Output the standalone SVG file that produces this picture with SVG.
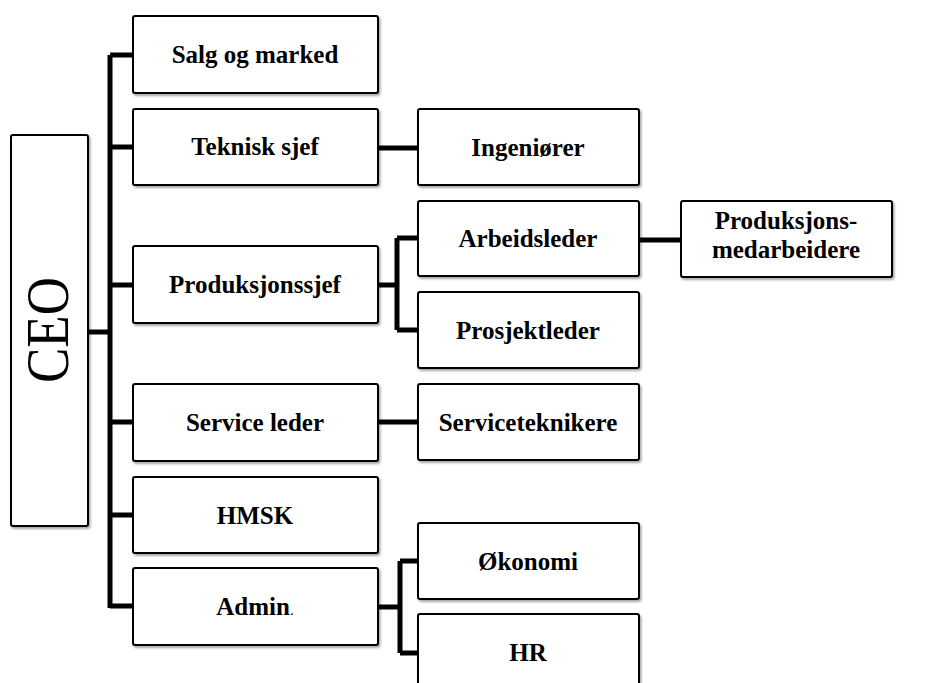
<svg xmlns="http://www.w3.org/2000/svg" width="944" height="683" viewBox="0 0 944 683">
<style>
.box{fill:#fff;stroke:#000;stroke-width:2;filter:url(#sh)}
.t{font-family:"Liberation Serif","DejaVu Serif",serif;font-weight:bold;font-size:25px;text-anchor:middle;fill:#000}
.c{fill:none;stroke:#000;stroke-width:5;stroke-linejoin:round}
</style>
<defs>
<filter id="sh" x="-10%" y="-10%" width="120%" height="130%">
<feDropShadow dx="1.5" dy="2" stdDeviation="1" flood-color="#000" flood-opacity="0.35"/>
</filter>
</defs>
<rect width="944" height="683" fill="#fff"/>
<g id="connectors">
<path class="c" d="M88,332 H110 M110,55 V608 M110,55 H133 M110,147 H133 M110,285 H133 M110,422 H133 M110,515 H133 M110,606 H133"/>
<path class="c" d="M378,148 H418"/>
<path class="c" d="M378,285 H397 M397,238 V330 M397,238 H418 M397,330 H418"/>
<path class="c" d="M639,240 H681"/>
<path class="c" d="M378,422 H418"/>
<path class="c" d="M378,607 H400 M400,561 V653 M400,561 H418 M400,653 H418"/>
</g>
<g id="ceo"><rect class="box" x="11" y="135" width="77" height="391" rx="2"/>
<text transform="translate(68,330) rotate(-90)" font-family="Liberation Serif,serif" font-size="62" text-anchor="middle" textLength="106" lengthAdjust="spacingAndGlyphs">CEO</text></g>
<g id="salg"><rect class="box" x="133" y="16" width="245" height="77" rx="2"/><text class="t" x="255" y="63">Salg og marked</text></g>
<g id="teknisk"><rect class="box" x="133" y="109" width="245" height="76" rx="2"/><text class="t" x="255" y="155">Teknisk sjef</text></g>
<g id="produksjonssjef"><rect class="box" x="133" y="246" width="245" height="77" rx="2"/><text class="t" x="255" y="293">Produksjonssjef</text></g>
<g id="service"><rect class="box" x="133" y="384" width="245" height="77" rx="2"/><text class="t" x="255" y="431">Service leder</text></g>
<g id="hmsk"><rect class="box" x="133" y="477" width="245" height="76" rx="2"/><text class="t" x="255" y="524">HMSK</text></g>
<g id="admin"><rect class="box" x="133" y="568" width="245" height="77" rx="2"/><text class="t" x="255" y="615">Admin<tspan font-weight="normal" font-size="15">.</tspan></text></g>
<g id="ingeniorer"><rect class="box" x="418" y="109" width="221" height="76" rx="2"/><text class="t" x="528" y="156">Ingeniører</text></g>
<g id="arbeidsleder"><rect class="box" x="418" y="201" width="221" height="75" rx="2"/><text class="t" x="528" y="247">Arbeidsleder</text></g>
<g id="prosjektleder"><rect class="box" x="418" y="292" width="221" height="76" rx="2"/><text class="t" x="528" y="339">Prosjektleder</text></g>
<g id="produksjonsmedarbeidere"><rect class="box" x="681" y="201" width="211" height="76" rx="2"/><text class="t" x="786" y="229">Produksjons-</text><text class="t" x="786" y="258">medarbeidere</text></g>
<g id="serviceteknikere"><rect class="box" x="418" y="384" width="221" height="76" rx="2"/><text class="t" x="528" y="431">Serviceteknikere</text></g>
<g id="okonomi"><rect class="box" x="418" y="523" width="221" height="76" rx="2"/><text class="t" x="528" y="570">Økonomi</text></g>
<g id="hr"><rect class="box" x="418" y="614" width="221" height="80" rx="2"/><text class="t" x="528" y="661">HR</text></g>
</svg>
